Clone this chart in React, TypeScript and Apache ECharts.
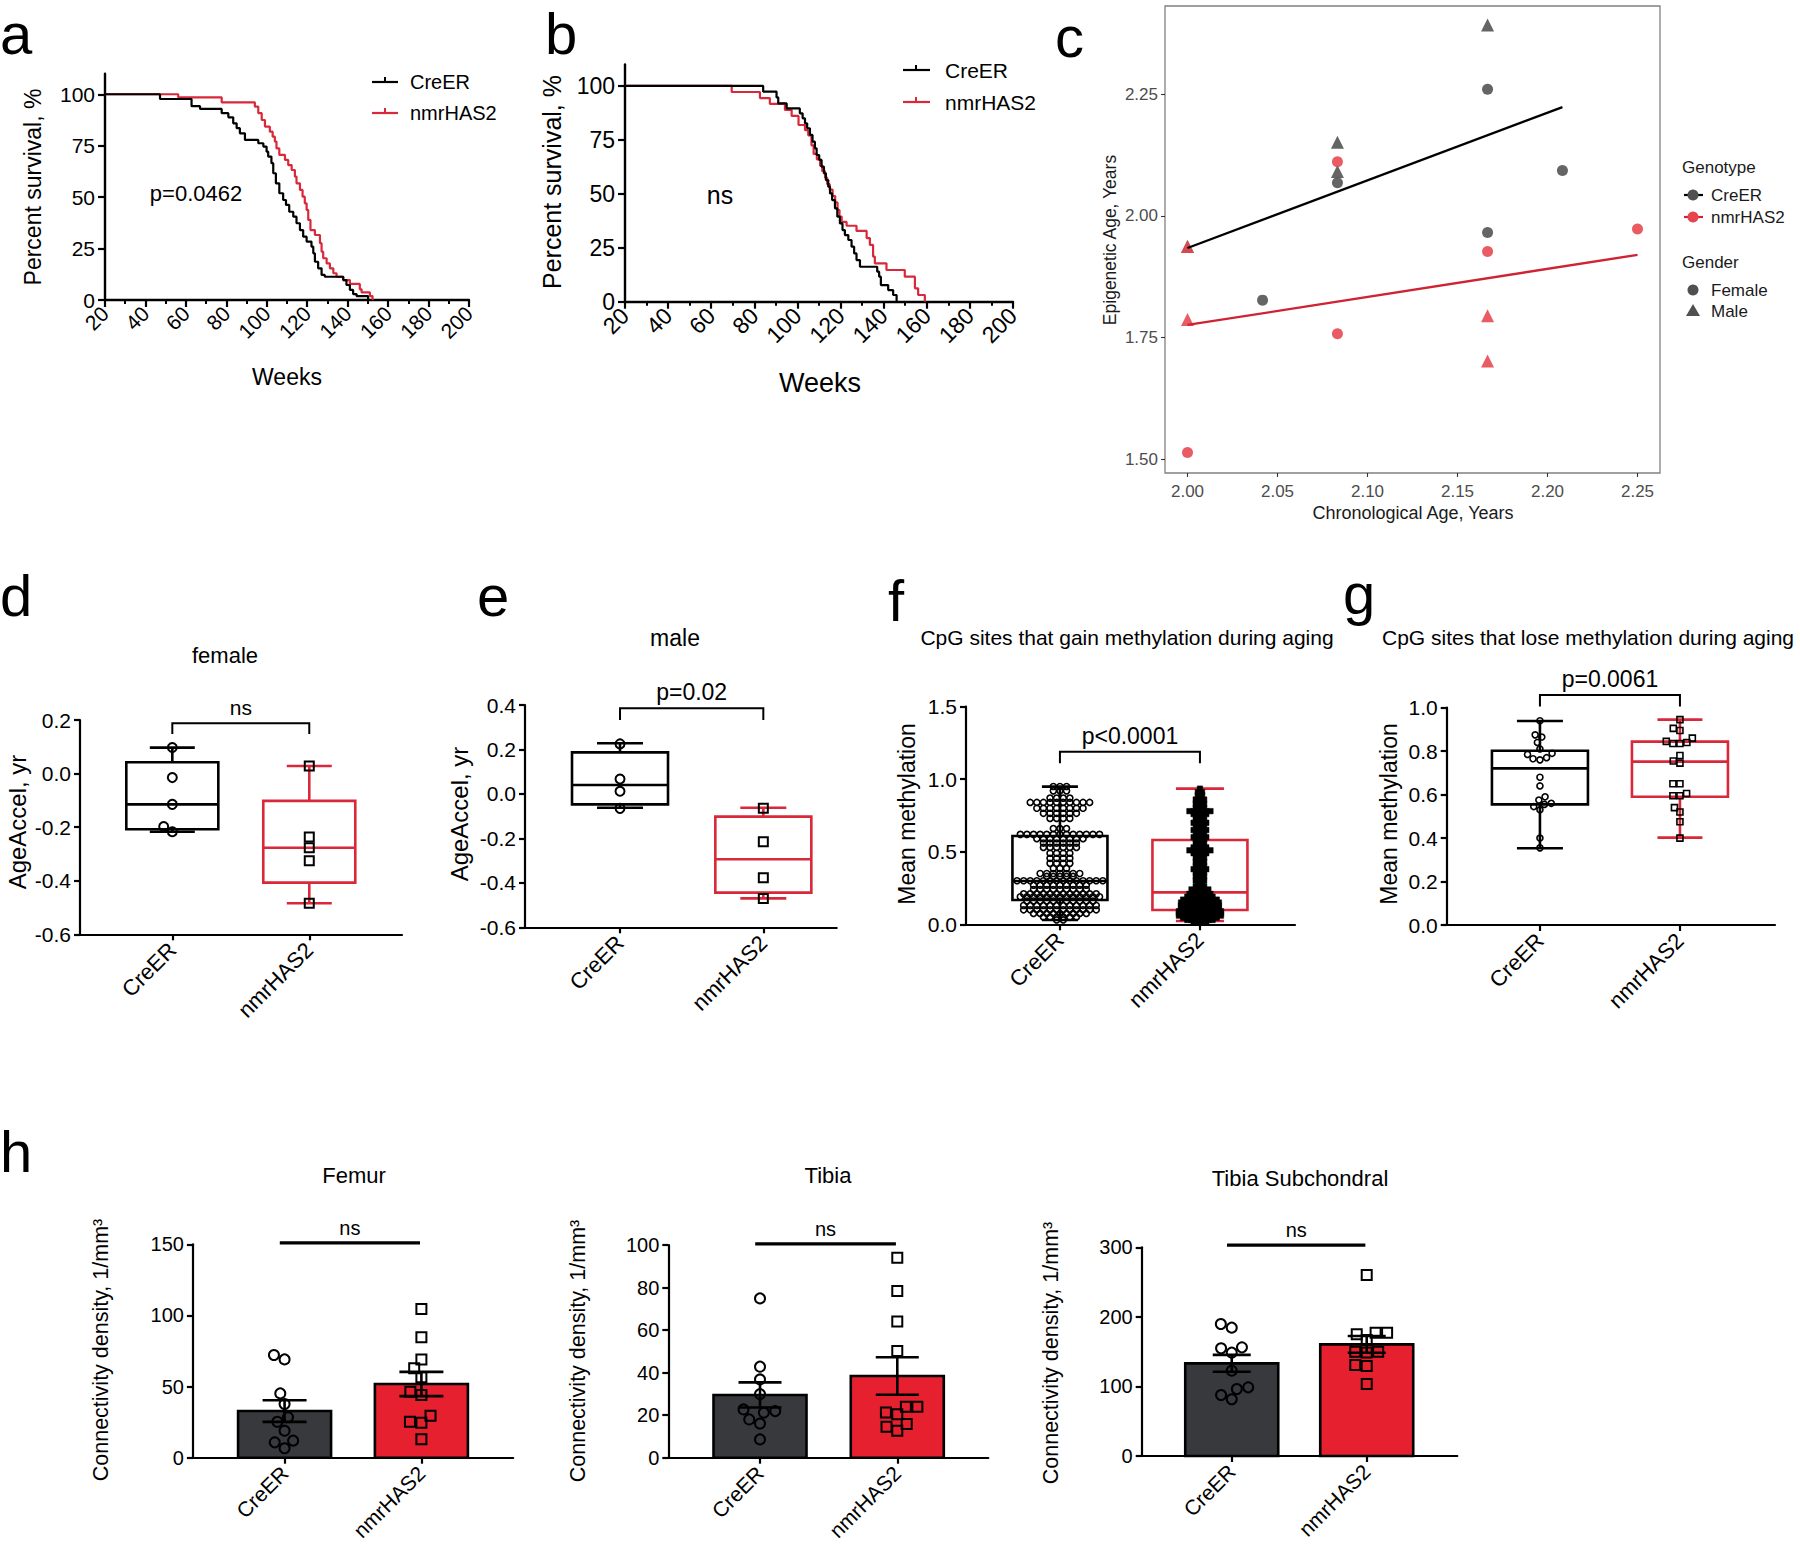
import React, { useEffect, useRef } from 'react';
import * as echarts from 'echarts';

const FONT = 'Liberation Sans, Arial, sans-serif';
const RED = '#d8283a';
const LINE_RED = '#cf2233';
const BAR_RED = '#e6202e';
const BAR_GRAY = '#37393c';
const C_GRAY = '#505050';
const C_RED = '#e6454d';

const groups = ['CreER', 'nmrHAS2'];

// ---------- a / b : survival ----------
const aCreERWeeks = [20, 47.2, 62.8, 67, 77.7, 81, 83.4, 85.1, 86.7, 89.2, 95.8, 98.3, 99.9, 100.7, 102.3, 103.2, 104.5, 106.2, 108.1, 109.5, 111.1, 113.1, 114.7, 116.4, 118, 119.7, 122.1, 123, 123.8, 125.4, 127.1, 128.7, 137.8, 139.4, 141.1, 142.7, 144.4, 150.1];
const aCreERSurv = [100, 97.7, 94.2, 92.9, 90.8, 88.8, 85.9, 83.5, 81, 77.8, 76.2, 74.6, 72.1, 69.7, 66.5, 61.6, 56.7, 51.9, 48.6, 46.2, 42.9, 40.5, 37.3, 34, 30.8, 28.4, 25.9, 22.7, 18.6, 15.4, 12.2, 11.3, 9.7, 7.3, 4.9, 2.9, 1.9, 0];
const aNmrWeeks = [20, 56.2, 77.7, 94.1, 95.8, 97.5, 99.1, 101.5, 102.9, 104, 104.8, 106.2, 109, 110.6, 112.3, 113.9, 114.7, 116.4, 117.7, 118.8, 119.7, 120.5, 121.6, 123.8, 126.3, 127.1, 127.9, 129.6, 131.2, 132.9, 134.5, 137.8, 141.1, 146, 146.9, 151, 152.3];
const aNmrSurv = [100, 98.5, 96.1, 94, 90.8, 87.5, 84.3, 81.8, 79.4, 77, 73.7, 70.5, 68.1, 65.6, 63.2, 60, 56.7, 53.5, 50.2, 47, 43.8, 38.9, 34, 31.6, 27.6, 23.5, 20.3, 17.8, 15.4, 13, 11.3, 9.7, 7.8, 5.2, 3.7, 1.9, 0];
const bCreERWeeks = [20, 84.1, 90.3, 91.1, 95, 101.1, 102.4, 103.5, 104.5, 105.8, 107, 108.1, 108.9, 110.1, 111.2, 112.3, 113.2, 114.3, 115.1, 116.1, 117.4, 118.5, 119.7, 120.9, 122, 123.6, 125.1, 126.3, 127.4, 129, 137, 137.9, 138.7, 142.1, 144.4, 146];
const bCreERSurv = [100, 97.4, 94.7, 91.9, 89.6, 87.3, 85, 82.7, 80.4, 77.3, 74.2, 71.1, 68, 65.7, 62.6, 59.5, 56.4, 53.3, 50.2, 47.1, 43.3, 39.4, 36.3, 33.2, 30.9, 28.6, 25.5, 22.4, 19.3, 16.2, 13.9, 11.6, 7.7, 5.4, 3.1, 0];
const bNmrWeeks = [20, 69.5, 82.6, 87.2, 94.2, 97.3, 100.5, 103.5, 105, 106.5, 107.5, 109, 110.5, 111.5, 112.8, 113.8, 115, 116.3, 117.5, 118.6, 119.5, 120.5, 122.8, 127.4, 132.1, 133.6, 135.1, 135.9, 141.3, 149.8, 154.5, 156, 159.1];
const bNmrSurv = [100, 97.2, 94.4, 91.7, 88.9, 86.1, 81.9, 79.5, 77.1, 72.5, 68.5, 66, 63, 60.5, 57.5, 54.5, 52, 49, 46, 42.5, 39.5, 37, 35.2, 32.8, 29.5, 26.3, 20.9, 17.8, 14.7, 11.6, 6.2, 3.1, 0];
const survYTicks = [0, 25, 50, 75, 100];

// ---------- c : epigenetic vs chronological age ----------
const cCreERFemale = [[2.0417, 1.827], [2.0833, 2.068], [2.1667, 2.26], [2.1667, 1.966], [2.2083, 2.093]];
const cCreERMale = [[2.0, 1.937], [2.0833, 2.151], [2.0833, 2.091], [2.1667, 2.392]];
const cNmrFemale = [[2.0, 1.514], [2.0833, 2.111], [2.0833, 1.758], [2.1667, 1.927], [2.25, 1.973]];
const cNmrMale = [[2.0, 1.937], [2.0, 1.787], [2.1667, 1.795], [2.1667, 1.702]];
const cCreERFit = [[2.0, 1.934], [2.2083, 2.2233]];
const cNmrFit = [[2.0, 1.776], [2.25, 1.92]];
const cXTicks = [2.0, 2.05, 2.1, 2.15, 2.2, 2.25];
const cYTicks = [1.5, 1.75, 2.0, 2.25];

// ---------- d / e : AgeAccel ----------
const dCreER = [0.097, -0.015, -0.115, -0.198, -0.217];
const dNmr = [0.028, -0.237, -0.277, -0.325, -0.484];
const dBoxCreER = [-0.217, -0.208, -0.115, 0.042, 0.097]; // min q1 med q3 max
const dBoxNmr = [-0.484, -0.407, -0.277, -0.102, 0.028];
const dTicks = [-0.6, -0.4, -0.2, 0, 0.2];
const eCreER = [0.225, 0.067, 0.012, -0.065];
const eNmr = [-0.065, -0.215, -0.377, -0.47];
const eBoxCreER = [-0.062, -0.047, 0.04, 0.187, 0.228];
const eBoxNmr = [-0.47, -0.444, -0.294, -0.102, -0.062];
const eTicks = [-0.6, -0.4, -0.2, 0, 0.2, 0.4];

// ---------- f / g : mean methylation ----------
// [value, number of CpG sites in that row]
const fCreERRows = [[0.03, 2], [0.05, 6], [0.075, 9], [0.10, 12], [0.13, 12], [0.16, 11], [0.19, 13], [0.21, 12], [0.24, 9], [0.27, 9], [0.30, 14], [0.33, 5], [0.35, 7], [0.385, 3], [0.42, 4], [0.455, 4], [0.49, 4], [0.53, 6], [0.56, 6], [0.59, 8], [0.62, 13], [0.66, 3], [0.73, 4], [0.765, 6], [0.80, 8], [0.84, 10], [0.87, 4], [0.92, 3], [0.95, 3]];
const fNmrRows = [[0.02, 4], [0.03, 7], [0.045, 9], [0.06, 11], [0.075, 11], [0.09, 11], [0.11, 10], [0.13, 10], [0.15, 10], [0.17, 9], [0.19, 7], [0.21, 6], [0.225, 4], [0.24, 5], [0.26, 3], [0.28, 2], [0.30, 3], [0.33, 3], [0.36, 3], [0.38, 4], [0.40, 3], [0.43, 3], [0.46, 3], [0.49, 4], [0.51, 6], [0.53, 4], [0.56, 3], [0.59, 3], [0.60, 4], [0.63, 3], [0.65, 4], [0.68, 3], [0.70, 4], [0.73, 3], [0.745, 2], [0.76, 4], [0.78, 6], [0.80, 3], [0.83, 3], [0.845, 2], [0.86, 3], [0.89, 2], [0.91, 2], [0.935, 1]];
const fBoxCreER = [0.03, 0.168, 0.299, 0.609, 0.949];
const fBoxNmr = [0.023, 0.099, 0.22, 0.581, 0.935];
const fTicks = [0, 0.5, 1.0, 1.5];
const gCreER = [0.94, 0.875, 0.865, 0.84, 0.81, 0.79, 0.785, 0.77, 0.765, 0.76, 0.68, 0.64, 0.59, 0.575, 0.56, 0.555, 0.545, 0.53, 0.40, 0.355];
const gNmr = [0.945, 0.905, 0.895, 0.86, 0.845, 0.84, 0.835, 0.835, 0.78, 0.755, 0.745, 0.65, 0.65, 0.605, 0.595, 0.595, 0.54, 0.52, 0.475, 0.40];
const gBoxCreER = [0.353, 0.555, 0.721, 0.802, 0.939];
const gBoxNmr = [0.402, 0.59, 0.752, 0.844, 0.945];
const gTicks = [0, 0.2, 0.4, 0.6, 0.8, 1.0];

// ---------- h : connectivity density ----------
const hFemurCreER = [72.2, 69.1, 45.2, 37.7, 28.4, 25.3, 19, 12, 10.8, 6.6];
const hFemurNmr = [104.5, 84.6, 69.1, 62.8, 56.5, 46.4, 44.1, 29.5, 25.3, 24.6, 12.9];
const hFemurMeanSem = [[32.8, 7.6], [51.8, 8.5]];
const hTibiaCreER = [74.9, 42.8, 36.8, 29.9, 22.7, 21.9, 21.2, 18, 16.1, 8.6];
const hTibiaNmr = [94, 78.4, 64, 50.2, 24, 24, 21.2, 20.4, 15.8, 14.6, 12.7];
const hTibiaMeanSem = [[29.5, 5.9], [38.4, 8.8]];
const hSubCreER = [189.8, 184.5, 156.2, 154.8, 148.6, 122.7, 98.7, 96.3, 87.7, 81.5];
const hSubNmr = [260.2, 177.3, 177.3, 175, 166.8, 150, 150, 148.6, 130.8, 129.4, 103.5];
const hSubMeanSem = [[133.2, 12.2], [160.5, 12]];
const hFemurTicks = [0, 50, 100, 150];
const hTibiaTicks = [0, 20, 40, 60, 80, 100];
const hSubTicks = [0, 100, 200, 300];

// ---------- layout ----------
type Grid = { left: number; top: number; width: number; height: number };
const G: Record<string, Grid> = {
  a: { left: 105, top: 73.7, width: 364, height: 226.3 },
  b: { left: 625, top: 64.4, width: 388, height: 237.3 },
  c: { left: 1165, top: 6, width: 495, height: 467 },
  d: { left: 80, top: 720, width: 322, height: 214.3 },
  e: { left: 525, top: 705, width: 311.7, height: 222.3 },
  f: { left: 966, top: 706.7, width: 329, height: 217.6 },
  g: { left: 1446.7, top: 707.7, width: 328.3, height: 217.3 },
  hF: { left: 192.9, top: 1244.3, width: 320.3, height: 213.4 },
  hT: { left: 668.3, top: 1245, width: 320, height: 212.7 },
  hS: { left: 1141.7, top: 1247.3, width: 315.6, height: 208.7 },
};
const XR: Record<string, number[]> = {
  d: [0.326, 2.677], e: [0.337, 2.512], f: [0.329, 2.679], g: [0.334, 2.679],
  hF: [0.33, 2.671], hT: [0.332, 2.663], hS: [0.333, 2.671],
};
const YR: Record<string, number[]> = {
  d: [-0.6, 0.2], e: [-0.6, 0.4], f: [0, 1.5], g: [0, 1.0], hF: [0, 150], hT: [0, 100], hS: [0, 300],
};

function expandRows(rows: number[][]): number[] {
  const out: number[] = [];
  rows.forEach(([v, n]) => { for (let i = 0; i < n; i++) out.push(v); });
  return out;
}

// collision-avoiding horizontal layout (pixel offsets)
function swarm(values: number[], pxPerY: number, dist: number): number[] {
  const idx = values.map((_, i) => i).sort((i, j) => values[i] - values[j]);
  const placed: { x: number; y: number }[] = [];
  const out = new Array(values.length).fill(0);
  for (const i of idx) {
    const y = values[i] * pxPerY;
    const forb: number[][] = [];
    for (const p of placed) {
      const dy = Math.abs(p.y - y);
      if (dy < dist) {
        const h = Math.sqrt(dist * dist - dy * dy);
        forb.push([p.x - h, p.x + h]);
      }
    }
    const cands = [0];
    forb.forEach(([l, r]) => cands.push(l, r));
    cands.sort((a, b) => Math.abs(a) - Math.abs(b));
    let best = 0;
    for (const c of cands) {
      if (forb.every(([l, r]) => c <= l + 1e-6 || c >= r - 1e-6)) { best = c; break; }
    }
    placed.push({ x: best, y });
    out[i] = best;
  }
  return out;
}

// row layout: equal values are spread in a centred row
function rowLayout(values: number[], dist: number): number[] {
  const out: number[] = [];
  let i = 0;
  while (i < values.length) {
    let j = i;
    while (j < values.length && values[j] === values[i]) j++;
    const n = j - i;
    for (let k = 0; k < n; k++) out.push((k - (n - 1) / 2) * dist);
    i = j;
  }
  return out;
}

function pxX(key: string) { return G[key].width / (XR[key][1] - XR[key][0]); }
function pxY(key: string) { return G[key].height / (YR[key][1] - YR[key][0]); }

function T(text: string, x: number, y: number, fs: number, o: any = {}) {
  return {
    type: 'text', x, y, rotation: o.rot || 0, silent: true, z: 10,
    style: { text, fontSize: fs, fontFamily: FONT, fill: o.color || '#000', align: o.align || 'center', verticalAlign: 'middle' },
  };
}
function L(x1: number, y1: number, x2: number, y2: number, color: string, w: number) {
  return { type: 'line', silent: true, z: 10, shape: { x1, y1, x2, y2 }, style: { stroke: color, lineWidth: w } };
}

function buildOption() {
  const keys = ['a', 'b', 'c', 'd', 'e', 'f', 'g', 'hF', 'hT', 'hS'];
  const gi = (k: string) => keys.indexOf(k);
  const grid = keys.map((k) => ({
    ...G[k], containLabel: false, show: k === 'c', borderColor: '#808080', borderWidth: 1.3, backgroundColor: 'rgba(0,0,0,0)',
  }));

  const blk = (w: number) => ({ color: '#000', width: w });
  const survX = (k: string, fs: number) => ({
    type: 'value', gridIndex: gi(k), min: 20, max: 200, interval: 20,
    axisLine: { show: true, onZero: false, lineStyle: blk(2.4) },
    axisTick: { show: true, length: 7, lineStyle: blk(2.2) },
    minorTick: { show: true, splitNumber: 2, length: 4, lineStyle: blk(2) },
    axisLabel: { rotate: 45, margin: 10, fontSize: fs, color: '#000', fontFamily: FONT },
    splitLine: { show: false }, minorSplitLine: { show: false },
  });
  const survY = (k: string, fs: number) => ({
    type: 'value', gridIndex: gi(k), min: 0, max: 110,
    axisLine: { show: true, onZero: false, lineStyle: blk(2.4) },
    axisTick: { show: true, customValues: survYTicks, length: 7, lineStyle: blk(2.2) },
    axisLabel: { customValues: survYTicks, margin: 10, fontSize: fs, color: '#000', fontFamily: FONT },
    splitLine: { show: false },
  });
  const catX = (k: string, fs: number) => ({
    type: 'value', gridIndex: gi(k), min: XR[k][0], max: XR[k][1],
    axisLine: { show: true, onZero: false, lineStyle: blk(2.2) },
    axisTick: { show: true, customValues: [1, 2], length: 6, lineStyle: blk(2.2) },
    axisLabel: {
      customValues: [1, 2], formatter: (v: number) => groups[Math.round(v) - 1] || '',
      rotate: 45, margin: 12, fontSize: fs, color: '#000', fontFamily: FONT,
    },
    splitLine: { show: false },
  });
  const valY = (k: string, ticks: number[], dec: number, fs: number) => ({
    type: 'value', gridIndex: gi(k), min: YR[k][0], max: YR[k][1],
    axisLine: { show: true, onZero: false, lineStyle: blk(2.2) },
    axisTick: { show: true, customValues: ticks, length: 6, lineStyle: blk(2.2) },
    axisLabel: { customValues: ticks, formatter: (v: number) => v.toFixed(dec), margin: 9, fontSize: fs, color: '#000', fontFamily: FONT },
    splitLine: { show: false },
  });
  const cTickStyle = { color: '#333', width: 1.1 };
  const xAxis: any[] = [
    survX('a', 21), survX('b', 23),
    {
      type: 'value', gridIndex: gi('c'), min: 1.9875, max: 2.2625,
      axisLine: { show: false }, axisTick: { show: true, customValues: cXTicks, length: 4, lineStyle: cTickStyle },
      axisLabel: { customValues: cXTicks, formatter: (v: number) => v.toFixed(2), margin: 10, fontSize: 17, color: '#4d4d4d', fontFamily: FONT },
      splitLine: { show: false },
    },
    catX('d', 22), catX('e', 22), catX('f', 22), catX('g', 22), catX('hF', 21), catX('hT', 21), catX('hS', 21),
  ];
  const yAxis: any[] = [
    survY('a', 21), survY('b', 23),
    {
      type: 'value', gridIndex: gi('c'), min: 1.472, max: 2.431,
      axisLine: { show: false }, axisTick: { show: true, customValues: cYTicks, length: 4, lineStyle: cTickStyle },
      axisLabel: { customValues: cYTicks, formatter: (v: number) => v.toFixed(2), margin: 7, fontSize: 17, color: '#4d4d4d', fontFamily: FONT },
      splitLine: { show: false },
    },
    valY('d', dTicks, 1, 21), valY('e', eTicks, 1, 21), valY('f', fTicks, 1, 21), valY('g', gTicks, 1, 21),
    valY('hF', hFemurTicks, 0, 20), valY('hT', hTibiaTicks, 0, 20), valY('hS', hSubTicks, 0, 20),
  ];

  const series: any[] = [];
  const surv = (k: string, weeks: number[], s: number[], color: string, z: number) => ({
    type: 'line', xAxisIndex: gi(k), yAxisIndex: gi(k), step: 'end', showSymbol: false, symbol: 'none', silent: true, z,
    lineStyle: { color, width: 2.2 }, itemStyle: { color },
    data: weeks.map((w, i) => [w, s[i]]),
  });
  series.push(surv('a', aNmrWeeks, aNmrSurv, RED, 2), surv('a', aCreERWeeks, aCreERSurv, '#000', 3));
  series.push(surv('b', bNmrWeeks, bNmrSurv, RED, 2), surv('b', bCreERWeeks, bCreERSurv, '#000', 3));

  // panel c
  const cPts = (data: number[][], symbol: string, size: number, color: string, z: number) => ({
    type: 'scatter', xAxisIndex: gi('c'), yAxisIndex: gi('c'), silent: true, z, symbol, symbolSize: size,
    itemStyle: { color, opacity: 0.88 }, data,
  });
  series.push(cPts(cCreERFemale, 'circle', 11, C_GRAY, 3), cPts(cCreERMale, 'triangle', 13, C_GRAY, 3));
  series.push(cPts(cNmrFemale, 'circle', 11, C_RED, 4), cPts(cNmrMale, 'triangle', 13, C_RED, 4));
  const cLine = (data: number[][], color: string) => ({
    type: 'line', xAxisIndex: gi('c'), yAxisIndex: gi('c'), showSymbol: false, symbol: 'none', silent: true, z: 5,
    lineStyle: { color, width: 2.3 }, itemStyle: { color }, data,
  });
  series.push(cLine(cCreERFit, '#000'), cLine(cNmrFit, LINE_RED));

  // boxes
  const boxSeries = (k: string, boxes: number[][], boxW: number, capWs: number[]) => ({
    type: 'custom', xAxisIndex: gi(k), yAxisIndex: gi(k), silent: true, z: 3,
    data: boxes.map((b, i) => [i + 1, ...b]),
    renderItem: (params: any, api: any) => {
      const i = params.dataIndex;
      const color = i === 0 ? '#000' : RED;
      const x = api.value(0);
      const yOf = (d: number) => api.coord([x, api.value(d)])[1];
      const cx = api.coord([x, 0])[0];
      const yMin = yOf(1), yQ1 = yOf(2), yMed = yOf(3), yQ3 = yOf(4), yMax = yOf(5);
      const st = { stroke: color, lineWidth: 2.6, fill: 'none' };
      const cw = capWs[i] / 2;
      return {
        type: 'group',
        children: [
          { type: 'line', shape: { x1: cx, y1: yQ3, x2: cx, y2: yMax }, style: st },
          { type: 'line', shape: { x1: cx, y1: yQ1, x2: cx, y2: yMin }, style: st },
          { type: 'line', shape: { x1: cx - cw, y1: yMax, x2: cx + cw, y2: yMax }, style: st },
          { type: 'line', shape: { x1: cx - cw, y1: yMin, x2: cx + cw, y2: yMin }, style: st },
          { type: 'rect', shape: { x: cx - boxW / 2, y: yQ3, width: boxW, height: yQ1 - yQ3 }, style: { stroke: color, lineWidth: 2.6, fill: 'rgba(0,0,0,0)' } },
          { type: 'line', shape: { x1: cx - boxW / 2, y1: yMed, x2: cx + boxW / 2, y2: yMed }, style: st },
        ],
      };
    },
  });
  const bracket = (k: string, top: number, leg: number, label: string, fs: number) => ({
    type: 'custom', xAxisIndex: gi(k), yAxisIndex: gi(k), silent: true, z: 6, clip: false,
    data: [[1, 2, top, leg]],
    renderItem: (params: any, api: any) => {
      const [x1, yT] = api.coord([api.value(0), api.value(2)]);
      const [x2, yL] = api.coord([api.value(1), api.value(3)]);
      return {
        type: 'group',
        children: [
          { type: 'polyline', shape: { points: [[x1, yL], [x1, yT], [x2, yT], [x2, yL]] }, style: { stroke: '#000', lineWidth: 2, fill: 'none' } },
          { type: 'text', x: (x1 + x2) / 2, y: yT - 16, style: { text: label, fontSize: fs, fontFamily: FONT, fill: '#000', align: 'center', verticalAlign: 'middle' } },
        ],
      };
    },
  });
  const pts = (k: string, xc: number, values: number[], offs: number[], symbol: string, size: number, filled: boolean, bw: number) => ({
    type: 'scatter', xAxisIndex: gi(k), yAxisIndex: gi(k), silent: true, z: 5, symbol, symbolSize: size,
    itemStyle: { color: filled ? '#000' : 'rgba(0,0,0,0)', borderColor: '#000', borderWidth: bw, opacity: 1 },
    data: values.map((v, i) => [xc + offs[i] / pxX(k), v]),
  });

  // d
  series.push(boxSeries('d', [dBoxCreER, dBoxNmr], 92, [45, 45]));
  series.push(bracket('d', 0.188, 0.148, 'ns', 21));
  series.push(pts('d', 1, dCreER, swarm(dCreER, pxY('d'), 10), 'circle', 9, false, 2));
  series.push(pts('d', 2, dNmr, swarm(dNmr, pxY('d'), 10), 'rect', 9, false, 2));
  // e
  series.push(boxSeries('e', [eBoxCreER, eBoxNmr], 96, [46, 46]));
  series.push(bracket('e', 0.385, 0.333, 'p=0.02', 23));
  series.push(pts('e', 1, eCreER, swarm(eCreER, pxY('e'), 10), 'circle', 9, false, 2));
  series.push(pts('e', 2, eNmr, swarm(eNmr, pxY('e'), 10), 'rect', 9, false, 2));
  // f
  const fC = expandRows(fCreERRows);
  const fN = expandRows(fNmrRows);
  series.push(boxSeries('f', [fBoxCreER, fBoxNmr], 95, [36, 48]));
  series.push(bracket('f', 1.19, 1.11, 'p<0.0001', 23));
  series.push(pts('f', 1, fC, rowLayout(fC, 6.6), 'circle', 6, false, 1.6));
  series.push(pts('f', 2, fN, rowLayout(fN, 4.2), 'rect', 5.5, true, 0.5));
  // g
  series.push(boxSeries('g', [gBoxCreER, gBoxNmr], 96, [46, 45]));
  series.push(bracket('g', 1.058, 1.005, 'p=0.0061', 23));
  series.push(pts('g', 1, gCreER, swarm(gCreER, pxY('g'), 7), 'circle', 6, false, 1.6));
  series.push(pts('g', 2, gNmr, swarm(gNmr, pxY('g'), 7), 'rect', 6, false, 1.6));

  // h bars
  const bars = (k: string, ms: number[][], barW: number, capW: number) => ({
    type: 'custom', xAxisIndex: gi(k), yAxisIndex: gi(k), silent: true, z: 2,
    data: ms.map((m, i) => [i + 1, m[0], m[1]]),
    renderItem: (params: any, api: any) => {
      const i = params.dataIndex;
      const x = api.value(0), mean = api.value(1), sem = api.value(2);
      const [cx, yM] = api.coord([x, mean]);
      const y0 = api.coord([x, 0])[1];
      const yHi = api.coord([x, mean + sem])[1];
      const yLo = api.coord([x, mean - sem])[1];
      const st = { stroke: '#000', lineWidth: 2.6 };
      return {
        type: 'group',
        children: [
          { type: 'rect', shape: { x: cx - barW / 2, y: yM, width: barW, height: y0 - yM }, style: { fill: i === 0 ? BAR_GRAY : BAR_RED, stroke: '#000', lineWidth: 2.6 } },
          { type: 'line', shape: { x1: cx, y1: yHi, x2: cx, y2: yLo }, style: st },
          { type: 'line', shape: { x1: cx - capW / 2, y1: yHi, x2: cx + capW / 2, y2: yHi }, style: st },
          { type: 'line', shape: { x1: cx - capW / 2, y1: yLo, x2: cx + capW / 2, y2: yLo }, style: st },
        ],
      };
    },
  });
  const sigLine = (k: string, y: number) => ({
    type: 'custom', xAxisIndex: gi(k), yAxisIndex: gi(k), silent: true, z: 6, clip: false,
    data: [[0.965, 1.99, y]],
    renderItem: (params: any, api: any) => {
      const [x1, yy] = api.coord([api.value(0), api.value(2)]);
      const [x2] = api.coord([api.value(1), api.value(2)]);
      return {
        type: 'group',
        children: [
          { type: 'line', shape: { x1, y1: yy, x2, y2: yy }, style: { stroke: '#000', lineWidth: 3.2 } },
          { type: 'text', x: (x1 + x2) / 2, y: yy - 15, style: { text: 'ns', fontSize: 20, fontFamily: FONT, fill: '#000', align: 'center', verticalAlign: 'middle' } },
        ],
      };
    },
  });
  const hPanel = (k: string, cre: number[], nmr: number[], ms: number[][], capW: number, sigY: number) => {
    series.push(bars(k, ms, 93, capW));
    series.push(sigLine(k, sigY));
    series.push(pts(k, 1, cre, swarm(cre, pxY(k), 11.5), 'circle', 10, false, 2));
    series.push(pts(k, 2, nmr, swarm(nmr, pxY(k), 11.5), 'rect', 10, false, 2));
  };
  hPanel('hF', hFemurCreER, hFemurNmr, hFemurMeanSem, 44, 151);
  hPanel('hT', hTibiaCreER, hTibiaNmr, hTibiaMeanSem, 43, 100.5);
  hPanel('hS', hSubCreER, hSubNmr, hSubMeanSem, 38, 303);

  // graphics: panel letters, titles, axis names, legends
  const R = Math.PI / 2;
  const el: any[] = [
    T('a', 0, 33, 58, { align: 'left' }), T('b', 545, 33, 58, { align: 'left' }), T('c', 1055, 36, 58, { align: 'left' }),
    T('d', 0, 595, 58, { align: 'left' }), T('e', 477, 595, 58, { align: 'left' }), T('f', 888, 600, 58, { align: 'left' }),
    T('g', 1343, 593, 58, { align: 'left' }), T('h', 0, 1151, 58, { align: 'left' }),
    // a
    T('Percent survival, %', 33, 187, 23, { rot: R }), T('Weeks', 287, 377, 23), T('p=0.0462', 196, 193, 22),
    L(372, 82, 398, 82, '#000', 2.2), L(385, 77, 385, 82, '#000', 2), T('CreER', 410, 82, 20, { align: 'left' }),
    L(372, 113, 398, 113, RED, 2.2), L(385, 108, 385, 113, RED, 2), T('nmrHAS2', 410, 113, 20, { align: 'left' }),
    // b
    T('Percent survival, %', 552, 182, 25, { rot: R }), T('Weeks', 820, 383, 27), T('ns', 720, 195, 25),
    L(903, 70, 930, 70, '#000', 2.2), L(916, 65, 916, 70, '#000', 2), T('CreER', 945, 70, 21, { align: 'left' }),
    L(903, 102, 930, 102, RED, 2.2), L(916, 97, 916, 102, RED, 2), T('nmrHAS2', 945, 102, 21, { align: 'left' }),
    // c
    T('Epigenetic Age, Years', 1110, 240, 17.5, { rot: R, color: '#1a1a1a' }),
    T('Chronological Age, Years', 1413, 513, 18, { color: '#1a1a1a' }),
    T('Genotype', 1682, 167, 17, { align: 'left', color: '#1a1a1a' }),
    L(1684, 195, 1703, 195, '#000', 2.2),
    { type: 'circle', silent: true, z: 10, shape: { cx: 1693, cy: 195, r: 5.5 }, style: { fill: C_GRAY } },
    T('CreER', 1711, 195, 17, { align: 'left', color: '#1a1a1a' }),
    L(1684, 217, 1703, 217, LINE_RED, 2.2),
    { type: 'circle', silent: true, z: 10, shape: { cx: 1693, cy: 217, r: 5.5 }, style: { fill: C_RED } },
    T('nmrHAS2', 1711, 217, 17, { align: 'left', color: '#1a1a1a' }),
    T('Gender', 1682, 262, 17, { align: 'left', color: '#1a1a1a' }),
    { type: 'circle', silent: true, z: 10, shape: { cx: 1693, cy: 290, r: 5.5 }, style: { fill: C_GRAY } },
    T('Female', 1711, 290, 17, { align: 'left', color: '#1a1a1a' }),
    { type: 'polygon', silent: true, z: 10, shape: { points: [[1693, 304], [1686, 316], [1700, 316]] }, style: { fill: C_GRAY } },
    T('Male', 1711, 311, 17, { align: 'left', color: '#1a1a1a' }),
    // d, e
    T('female', 225, 655, 22), T('AgeAccel, yr', 17, 822, 24, { rot: R }),
    T('male', 675, 638, 23), T('AgeAccel, yr', 459, 814, 24, { rot: R }),
    // f, g
    T('CpG sites that gain methylation during aging', 1127, 637, 21), T('Mean methylation', 907, 814, 23, { rot: R }),
    T('CpG sites that lose methylation during aging', 1588, 637, 21), T('Mean methylation', 1389, 814, 23, { rot: R }),
    // h
    T('Femur', 354, 1175, 22), T('Tibia', 828, 1175, 22), T('Tibia Subchondral', 1300, 1178, 22),
    T('Connectivity density, 1/mm³', 101, 1350, 21.5, { rot: R }),
    T('Connectivity density, 1/mm³', 578, 1351, 21.5, { rot: R }),
    T('Connectivity density, 1/mm³', 1051, 1353, 21.5, { rot: R }),
  ];

  return {
    animation: false,
    backgroundColor: '#fff',
    textStyle: { fontFamily: FONT },
    grid, xAxis, yAxis, series,
    graphic: { elements: el },
  };
}

export default function App() {
  const ref = useRef<HTMLDivElement>(null);
  useEffect(() => {
    document.body.style.margin = '0';
    const chart = echarts.init(ref.current!, null, { renderer: 'svg', width: 1800, height: 1552 });
    chart.setOption(buildOption() as any);
    return () => chart.dispose();
  }, []);
  return <div ref={ref} style={{ width: 1800, height: 1552, background: '#fff' }} />;
}
